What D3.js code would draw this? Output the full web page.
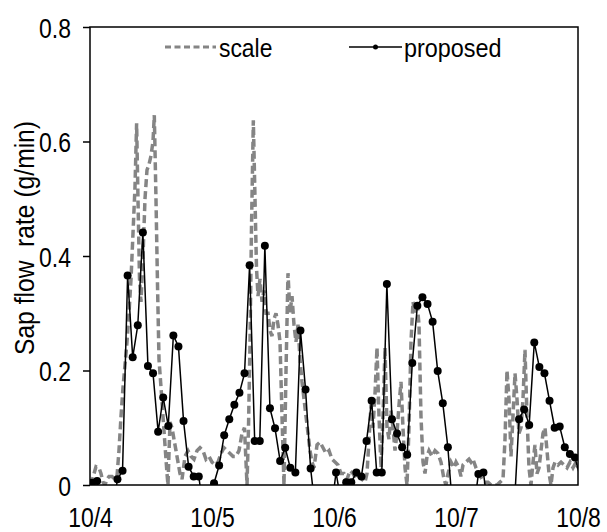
<!DOCTYPE html>
<html>
<head>
<meta charset="utf-8">
<script src="https://cdn.jsdelivr.net/npm/d3@7"></script>
<style>
	body { margin: 0; background: #fff; }
	svg { display: block; }
	text { font-family: "Liberation Sans", Arial, sans-serif; fill: #000; }
</style>
</head>
<body>
<div id="chart"></div>
<script>
// x axis: hours since 10/4 00:00
const dayLabels = ['10/4', '10/5', '10/6', '10/7', '10/8']
const yTicks = [0, 0.2, 0.4, 0.6, 0.8]

// "proposed": hourly samples, first one at 00:24 (negative values fall below the axis)
const proposedStart = 0.4
const proposed = [
	0.004, 0.007, -0.05, -0.05, -0.05, 0.01, 0.025, 0.366, 0.223, 0.279, 0.441, 0.208,
	0.195, 0.093, 0.153, 0.103, 0.261, 0.242, 0.112, 0.032, 0.015, 0.015, -0.05, -0.05,
	0.003, 0.034, 0.087, 0.115, 0.140, 0.161, 0.195, 0.384, 0.077, 0.077, 0.418, 0.134,
	0.099, 0.042, 0.065, 0.030, 0.022, 0.270, 0.167, 0.029, -0.05, -0.05, -0.05, -0.05,
	0.022, -0.03, 0.005, 0.005, 0.022, 0.015, 0.077, 0.147, 0.022, 0.022, 0.351, 0.115,
	0.090, 0.066, 0.053, 0.213, 0.313, 0.328, 0.316, 0.285, 0.199, 0.143, 0.066, -0.05,
	-0.05, -0.05, -0.05, -0.05, 0.019, 0.022, -0.05, -0.05, -0.05, -0.05, -0.05, -0.05,
	0.115, 0.132, 0.105, 0.249, 0.206, 0.195, 0.147, 0.100, 0.102, 0.066, 0.054, 0.048,
	0.015
]

// "scale": irregular samples (hour, value)
const scaleHours = [
	0.20, 0.79, 1.18, 1.77, 2.16, 2.56, 2.95, 3.34, 3.74, 4.33, 4.92, 5.31, 5.70, 6.10, 6.49, 6.89,
	7.28, 7.67, 8.07, 8.46, 8.85, 9.17, 9.44, 9.74, 10.03, 10.43, 10.82, 11.21, 11.61, 12.00, 12.39, 12.65,
	12.98, 13.28, 13.57, 13.97, 14.36, 14.75, 15.15, 15.34, 15.74, 16.13, 16.52, 16.92, 17.31, 17.70, 18.10, 18.69,
	19.28, 19.87, 20.46, 21.05, 21.64, 22.23, 22.82, 23.41,
	24.00, 24.59, 25.18, 25.77, 26.36, 26.95, 27.54, 28.13, 28.72, 29.31, 29.90, 30.39, 30.69, 30.89, 31.18, 31.48,
	31.77, 32.13, 32.46, 32.75, 33.05, 33.44, 33.84, 34.23, 34.62, 35.02, 35.41, 35.80, 36.20, 36.59, 36.98, 37.38,
	37.77, 38.16, 38.56, 38.95, 39.34, 39.74, 40.13, 40.52, 40.92, 41.31, 41.71, 42.10, 42.49, 42.89, 43.28, 43.67,
	44.07, 44.66, 45.25, 45.84, 46.43, 47.02, 47.61,
	48.20, 48.79, 49.38, 49.97, 50.56, 51.15, 51.74, 52.33, 52.92, 53.51, 54.10, 54.49, 54.89, 55.28, 55.67, 56.07,
	56.46, 56.85, 57.25, 57.64, 58.03, 58.43, 58.82, 59.21, 59.61, 60.00, 60.39, 60.79, 61.18, 61.57, 61.97, 62.36,
	62.75, 63.15, 63.54, 63.93, 64.33, 64.72, 65.11, 65.51, 65.90, 66.30, 66.69, 67.28, 67.87, 68.46, 69.05, 69.64,
	70.03, 70.43, 71.02, 71.61,
	72.00, 72.59, 72.98, 73.38, 73.97, 74.56, 74.95, 75.35, 75.93, 76.52, 77.12, 77.71, 78.30, 78.89, 79.48, 80.07,
	80.66, 81.25, 81.64, 82.03, 82.43, 82.82, 83.21, 83.61, 84.00, 84.39, 84.79, 85.18, 85.57, 85.97, 86.36, 86.75,
	87.15, 87.54, 87.93, 88.33, 88.72, 89.11, 89.51, 89.90, 90.30, 90.69, 91.08, 91.48, 92.07, 92.66, 93.25, 93.84,
	94.43, 95.02, 95.61, 96.00
]
const scaleValues = [
	0.0, 0.02, 0.032, 0.03, 0.02, 0.005, 0.0, 0.01, 0.015, 0.015, 0.01, 0.015, 0.06, 0.12, 0.17, 0.21,
	0.25, 0.3, 0.36, 0.44, 0.52, 0.632, 0.5, 0.36, 0.32, 0.4, 0.5, 0.55, 0.56, 0.575, 0.6, 0.646,
	0.5, 0.35, 0.22, 0.17, 0.12, 0.07, 0.02, 0.0, 0.11, 0.1, 0.08, 0.06, 0.04, 0.02, 0.01, 0.05,
	0.06, 0.05, 0.045, 0.06, 0.065, 0.06, 0.045, 0.05,
	0.04, 0.035, 0.04, 0.055, 0.065, 0.06, 0.055, 0.05, 0.05, 0.06, 0.09, 0.1, 0.04, 0.0, 0.1, 0.25,
	0.45, 0.637, 0.5, 0.38, 0.33, 0.36, 0.32, 0.34, 0.3, 0.3, 0.27, 0.26, 0.29, 0.3, 0.28, 0.25,
	0.12, 0.0, 0.2, 0.37, 0.3, 0.33, 0.28, 0.25, 0.28, 0.22, 0.18, 0.15, 0.12, 0.09, 0.06, 0.04,
	0.03, 0.07, 0.075, 0.065, 0.055, 0.06, 0.045,
	0.04, 0.035, 0.02, 0.02, 0.01, 0.025, 0.02, 0.01, 0.015, 0.01, 0.005, 0.02, 0.08, 0.14, 0.1, 0.16,
	0.24, 0.12, 0.03, 0.12, 0.24, 0.1, 0.08, 0.13, 0.1, 0.06, 0.09, 0.14, 0.18, 0.1, 0.03, 0.0,
	0.1, 0.25, 0.32, 0.3, 0.32, 0.28, 0.12, 0.04, 0.02, 0.05, 0.06, 0.05, 0.06, 0.055, 0.04, 0.01,
	0.0, 0.02, 0.04, 0.03,
	0.04, 0.03, 0.015, 0.035, 0.04, 0.045, 0.04, 0.045, 0.03, 0.02, 0.01, 0.005, 0.005, 0.0, 0.0, 0.0,
	0.005, 0.01, 0.08, 0.2, 0.15, 0.05, 0.12, 0.195, 0.15, 0.09, 0.1, 0.15, 0.236, 0.12, 0.03, 0.0,
	0.04, 0.07, 0.02, 0.03, 0.06, 0.09, 0.1, 0.06, 0.02, 0.0, 0.03, 0.04, 0.035, 0.04, 0.035, 0.03,
	0.04, 0.03, 0.04, 0.03
]

const W = 607, H = 532
const margin = {top: 27, right: 29, bottom: 47, left: 90}
const tickSquash = 0.82

const $svg = d3.select('#chart').append('svg')
	.attr('width', W)
	.attr('height', H)

let x = d3.scaleLinear()
	.domain([0, 96])
	.range([margin.left, W - margin.right])

let y = d3.scaleLinear()
	.domain([0, 0.8])
	.range([H - margin.bottom, margin.top])

$svg.append('clipPath')
	.attr('id', 'plot-clip')
	.append('rect')
	.attr('x', x(0))
	.attr('y', y(0.8))
	.attr('width', x(96) - x(0))
	.attr('height', y(0) - y(0.8))

const scaleData = scaleHours.map((h, i) => ({t: h, v: scaleValues[i]}))
const proposedData = proposed.map((v, i) => ({t: proposedStart + i, v}))

const line = d3.line()
	.x(d => x(d.t))
	.y(d => y(d.v))

const $plot = $svg.append('g')
	.attr('clip-path', 'url(#plot-clip)')

// Series

$plot.append('path')
	.datum(scaleData)
	.attr('d', line)
	.attr('fill', 'none')
	.attr('stroke', '#858585')
	.attr('stroke-width', 3.5)
	.attr('stroke-dasharray', '8,4')

$plot.append('path')
	.datum(proposedData)
	.attr('d', line)
	.attr('fill', 'none')
	.attr('stroke', '#000')
	.attr('stroke-width', 1.5)

$plot.selectAll('circle')
	.data(proposedData.filter(d => d.t <= 96))
	.enter()
	.append('circle')
	.attr('cx', d => x(d.t))
	.attr('cy', d => y(d.v))
	.attr('r', 4)
	.attr('fill', '#000')

// Axes

const $yAxis = $svg.append('g')
	.attr('transform', `translate(${margin.left}, 0)`)
	.call(d3.axisLeft(y)
		.tickValues(yTicks)
		.tickSize(7)
		.tickSizeOuter(0)
		.tickFormat(d => d === 0 ? '0' : d3.format('.1f')(d)))

$yAxis.select('.domain').remove()
$yAxis.selectAll('line').attr('stroke', '#000').attr('stroke-width', 1.5)
$yAxis.selectAll('text')
	.attr('x', null)
	.attr('dy', '0.36em')
	.attr('transform', `translate(-19, 0) scale(${tickSquash}, 1)`)
	.style('font-size', '28px')
	.style('font-family', '"Liberation Sans", Arial, sans-serif')

const $xAxis = $svg.append('g')
	.attr('transform', `translate(0, ${H - margin.bottom})`)
	.call(d3.axisBottom(x)
		.tickValues(dayLabels.map((_, i) => i * 24))
		.tickSize(0)
		.tickSizeOuter(0)
		.tickFormat((_, i) => dayLabels[i]))

$xAxis.select('.domain').remove()
$xAxis.selectAll('text')
	.attr('y', null)
	.attr('dy', null)
	.attr('transform', `translate(0, 42) scale(${tickSquash}, 1)`)
	.style('font-size', '28px')
	.style('font-family', '"Liberation Sans", Arial, sans-serif')

// Plot frame

$svg.append('rect')
	.attr('x', x(0))
	.attr('y', y(0.8))
	.attr('width', x(96) - x(0))
	.attr('height', y(0) - y(0.8))
	.attr('fill', 'none')
	.attr('stroke', '#000')
	.attr('stroke-width', 1.5)

// Axis title

$svg.append('text')
	.attr('transform', `translate(34, 238) rotate(-90) scale(0.88, 1)`)
	.attr('text-anchor', 'middle')
	.style('font-size', '28px')
	.style('white-space', 'pre')
	.text('Sap flow  rate (g/min)')

// Legend

const $legend = $svg.append('g')
	.attr('transform', 'translate(0, 47)')

$legend.append('line')
	.attr('x1', 165).attr('x2', 216)
	.attr('stroke', '#858585')
	.attr('stroke-width', 3)
	.attr('stroke-dasharray', '6,3.5')

$legend.append('text')
	.attr('transform', `translate(219, 10) scale(0.88, 1)`)
	.style('font-size', '26px')
	.text('scale')

$legend.append('line')
	.attr('x1', 349).attr('x2', 402)
	.attr('stroke', '#000')
	.attr('stroke-width', 1.5)

$legend.append('circle')
	.attr('cx', 375.5)
	.attr('r', 2.5)
	.attr('fill', '#000')

$legend.append('text')
	.attr('transform', `translate(404, 10) scale(0.9, 1)`)
	.style('font-size', '26px')
	.text('proposed')
</script>
</body>
</html>
